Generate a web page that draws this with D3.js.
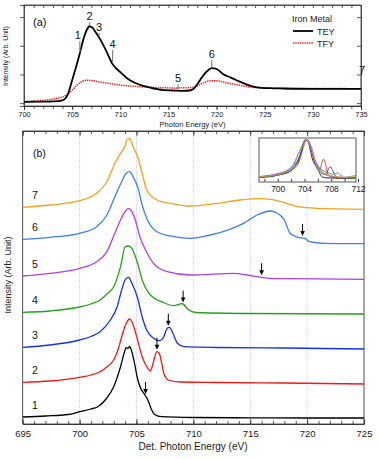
<!DOCTYPE html>
<html><head><meta charset="utf-8">
<script src="https://cdn.jsdelivr.net/npm/d3@7"></script>
<style>
html,body{margin:0;padding:0;background:#fff;}
svg{display:block;font-family:"Liberation Sans",Arial,Helvetica,sans-serif;}
</style></head>
<body><svg id="c" width="381" height="459"></svg>
<script>
// ---------- Panel (a) data: [photon energy (eV), intensity] ----------
const teyData = [[700,0.045],[702,0.05],[703,0.06],[704,0.10],[704.4,0.21],[704.6,0.35],[705,0.80],[705.4,1.25],[705.8,1.74],[706.2,2.26],[706.5,2.54],[706.8,2.68],[707.1,2.63],[707.5,2.44],[707.9,2.23],[708.5,1.85],[709.2,1.36],[710,1.08],[710.7,0.87],[711.5,0.71],[712.5,0.59],[713.5,0.51],[714.5,0.45],[715.5,0.44],[716.5,0.43],[717.2,0.44],[717.6,0.49],[718.0,0.66],[718.5,0.91],[719.0,1.11],[719.5,1.22],[720.0,1.19],[720.7,1.01],[721.5,0.89],[722.4,0.75],[723.3,0.63],[724.2,0.55],[725.5,0.52],[727,0.51],[730,0.50],[735,0.50]];
const tfyData = [[700,0.045],[701,0.07],[702,0.094],[703,0.14],[703.8,0.195],[704.4,0.28],[705,0.45],[705.5,0.63],[706,0.75],[706.6,0.80],[707.2,0.78],[708,0.73],[709,0.68],[710,0.63],[711.3,0.59],[712.5,0.56],[714,0.54],[715.5,0.53],[717,0.54],[717.8,0.57],[718.5,0.68],[719.3,0.78],[720,0.78],[721,0.71],[722.3,0.63],[723.5,0.56],[725,0.53],[728,0.51],[735,0.505]];
const markerLabels = ["1","2","3","4","5","6","7"];
const markerEnergies = [705.8,706.8,707.8,709.2,716.0,719.5,735];
const markerTips = [2.16,2.82,2.44,1.85,0.66,1.5,0.94];
const xTicksA = [700,705,710,715,720,725,730,735];
const yTicksA = [0,1,2,3];
const legendTitle = "Iron Metal";
const legendNames = ["TEY","TFY"];

// ---------- Panel (b) data: [detected photon energy (eV), intensity incl. offset] ----------
const s1 = [[695,7],[697,8],[699,9.5],[700,12.3],[701,15],[701.6,17.3],[702.4,26],[703,37.3],[703.6,57.3],[704.0,74],[704.1,76.5],[704.25,75.5],[704.4,77.5],[704.5,75.5],[704.8,62.3],[705.1,45],[705.4,35],[705.6,31.5],[705.8,28],[706.0,24],[706.3,15],[706.6,9.5],[707.2,7.3],[710,6.5],[715,6.2],[720,6],[725,6]];
const s2 = [[695,41.7],[697.4,43],[700,46.7],[701,49],[701.8,52.3],[702.5,58],[703,64],[703.4,75],[703.7,87.3],[704.1,100.7],[704.4,105],[704.6,102.3],[704.85,94],[705.1,84],[705.5,67.3],[706.0,55.7],[706.2,53],[706.4,58],[706.6,67],[706.8,72.3],[707.0,70.7],[707.2,62],[707.4,50.7],[707.8,44],[708.9,42],[712,41.5],[718,41],[725,40]];
const s3 = [[695,76.7],[697.4,79],[700,84],[701,87.5],[701.8,92.3],[702.7,104],[703.3,117.3],[703.7,134],[704.0,144],[704.3,146.7],[704.6,140.7],[705.1,126],[705.5,107.3],[705.9,94],[706.5,85.7],[707.0,83.3],[707.4,87.3],[707.7,95.7],[707.9,96.7],[708.2,90.7],[708.6,80.7],[709.2,77.3],[712,76.5],[718,76],[725,75]];
const s4 = [[695,111.7],[697.4,113],[700,117],[701,120],[701.8,124],[702.5,131],[703,137.3],[703.6,157.3],[704.0,177],[704.3,178],[704.6,175.7],[705.1,160.7],[705.5,144],[706.1,130.7],[706.6,125.5],[707.2,122.3],[708.3,118.3],[708.7,119.5],[709.0,120.5],[709.5,115],[710.2,111.5],[715,110.5],[725,110]];
const s5 = [[695,148],[697.4,150.7],[700,155.7],[701.5,162.3],[702.4,172.3],[703.1,190.7],[703.6,204],[704.0,212.3],[704.3,215.7],[704.6,212.3],[704.9,204],[705.3,187.3],[705.8,174],[706.5,160.7],[707.7,152.3],[709.7,149],[711.5,149.7],[713.5,150.7],[714.7,149],[716.0,146.7],[716.7,145.7],[718.5,145.3],[725,144.7]];
const s6 = [[695,184.7],[697.4,186.7],[700,190.7],[701.5,197.3],[702.4,209],[703.1,227.3],[703.7,242.3],[704.1,250.7],[704.4,252.3],[704.7,247.3],[705.1,237.3],[705.5,219],[705.9,205.7],[706.8,192.3],[708.3,187.3],[709.7,185.7],[711.5,189],[713.2,194.7],[714.4,200.7],[715.6,209],[716.8,213],[717.3,211.3],[718.0,204],[718.5,190.7],[719.2,186.7],[719.8,185.7],[720.2,182.3],[721.4,180.7],[725,180.3]];
const s7 = [[695,216.7],[697.4,219],[700,223.3],[701.5,230.7],[702.4,242.3],[703.1,260.7],[703.6,270.7],[704.0,278],[704.2,285],[704.4,285.5],[704.7,277.3],[705.1,267.3],[705.5,250.7],[705.9,234],[706.8,224],[708.3,220],[709.7,218],[712.1,220.7],[714.1,224],[715.9,225.3],[716.8,224.7],[718.0,221.3],[719.2,217.3],[720.9,215.7],[725,214.7]];
const seriesB = [s1,s2,s3,s4,s5,s6,s7];
const seriesLabels = ["1","2","3","4","5","6","7"];
const seriesColors = ["#000000","#f01818","#1530ee","#26a01a","#b23ef0","#3d7ff0","#f7a21b"];
const arrowEnergies = [705.8,706.8,707.8,709.1,716.0,719.6];
const xTicksB = [695,700,705,710,715,720,725];
const insetTicks = [700,704,708,712];

// ---------- drawing ----------
const svg = d3.select("#c");
const axisCol = "#333";

// ===== Panel (a) =====
const xA = d3.scaleLinear([700,735],[24,361]);
const yA = d3.scaleLinear([-0.1,3.42],[106,5]);
const gA = svg.append("g");
gA.append("rect").attr("x",24).attr("y",5).attr("width",337).attr("height",101)
  .attr("fill","none").attr("stroke",axisCol).attr("stroke-width",0.8);
const minorA = d3.range(700,736,1);
function styleAxis(g){ g.selectAll(".domain").attr("stroke",axisCol).attr("stroke-width",0.8);
  g.selectAll(".tick line").attr("stroke",axisCol).attr("stroke-width",0.8); }
gA.append("g").attr("transform","translate(0,106)")
  .call(d3.axisBottom(xA).tickValues(minorA).tickSize(3).tickFormat(""))
  .call(styleAxis);
gA.append("g").attr("transform","translate(0,106)")
  .call(d3.axisBottom(xA).tickValues(xTicksA).tickSize(4).tickPadding(2).tickFormat(d3.format("d")))
  .call(styleAxis)
  .call(g=>g.selectAll("text").attr("font-size",7.5).attr("fill","#222"));
gA.append("g").attr("transform","translate(0,5)")
  .call(d3.axisTop(xA).tickValues(minorA).tickSizeInner(-3).tickSizeOuter(0).tickFormat(""))
  .call(styleAxis);
gA.append("g").attr("transform","translate(24,0)")
  .call(d3.axisLeft(yA).tickValues(yTicksA).tickSize(4).tickFormat(""))
  .call(styleAxis);
gA.append("g").attr("transform","translate(361,0)")
  .call(d3.axisRight(yA).tickValues(yTicksA).tickSizeInner(-4).tickSizeOuter(0).tickFormat(""))
  .call(styleAxis);
gA.append("text").attr("x",192.5).attr("y",127).attr("text-anchor","middle")
  .attr("font-size",7.5).attr("fill","#222").text("Photon Energy (eV)");
gA.append("text").attr("transform","translate(8,56) rotate(-90)").attr("text-anchor","middle")
  .attr("font-size",7).attr("fill","#222").text("Intensity (Arb. Unit)");
gA.append("text").attr("x",33).attr("y",26).attr("font-size",11).attr("fill","#111").text("(a)");

const lineA = d3.line().x(d=>xA(d[0])).y(d=>yA(d[1])).curve(d3.curveMonotoneX);
gA.append("path").datum(tfyData).attr("d",lineA).attr("fill","none")
  .attr("stroke","#f02020").attr("stroke-width",1.5).attr("stroke-dasharray","1.4,0.9");
gA.append("path").datum(teyData).attr("d",lineA).attr("fill","none")
  .attr("stroke","#000").attr("stroke-width",1.8);

function interp(arr,e){
  for(let i=0;i<arr.length-1;i++){ if(e>=arr[i][0] && e<=arr[i+1][0]){
    const t=(e-arr[i][0])/(arr[i+1][0]-arr[i][0]); return arr[i][1]+t*(arr[i+1][1]-arr[i][1]); } }
  return arr[arr.length-1][1];
}
markerLabels.forEach((lab,i)=>{
  const e=markerEnergies[i];
  const x=xA(e), yb=yA(interp(teyData,e)), yt=yA(markerTips[i]);
  gA.append("line").attr("x1",x).attr("x2",x).attr("y1",yt).attr("y2",yb-1)
    .attr("stroke","#888").attr("stroke-width",1.2);
  gA.append("text").attr("x",x).attr("y",yt-2).attr("text-anchor",i===6?"end":"middle")
    .attr("dx",i===6?4:(i===0?-2:0))
    .attr("font-size",11).attr("fill","#111").text(lab);
});
// legend
gA.append("text").attr("x",292).attr("y",22).attr("font-size",9).attr("fill","#222").text(legendTitle);
gA.append("line").attr("x1",293).attr("x2",313).attr("y1",31).attr("y2",31).attr("stroke","#000").attr("stroke-width",1.8);
gA.append("line").attr("x1",293).attr("x2",313).attr("y1",43).attr("y2",43).attr("stroke","#f02020").attr("stroke-width",1.5).attr("stroke-dasharray","1.4,0.9");
gA.append("text").attr("x",317).attr("y",34.5).attr("font-size",9).attr("fill","#222").text(legendNames[0]);
gA.append("text").attr("x",317).attr("y",46.5).attr("font-size",9).attr("fill","#222").text(legendNames[1]);

// ===== Panel (b) =====
const xB = d3.scaleLinear([695,725],[22.7,364]);
const yB = d3.scaleLinear([0,293],[424,131]);
const gB = svg.append("g");
// gridlines
gB.selectAll("line.grid").data(xTicksB).join("line").attr("class","grid")
  .attr("x1",d=>xB(d)).attr("x2",d=>xB(d)).attr("y1",131).attr("y2",424)
  .attr("stroke","#b9c0f2").attr("stroke-width",0.8).attr("stroke-dasharray","1.2,1.2");
gB.append("rect").attr("x",22.7).attr("y",131).attr("width",341.3).attr("height",293)
  .attr("fill","none").attr("stroke",axisCol).attr("stroke-width",0.8);
const minorB = d3.range(695,726,1);
gB.append("g").attr("transform","translate(0,424)")
  .call(d3.axisBottom(xB).tickValues(minorB).tickSizeInner(-3).tickSizeOuter(0).tickFormat(""))
  .call(styleAxis);
gB.append("g").attr("transform","translate(0,424)")
  .call(d3.axisBottom(xB).tickValues(xTicksB).tickSizeInner(-5).tickSizeOuter(0).tickPadding(6).tickFormat(d3.format("d")))
  .call(styleAxis)
  .call(g=>g.selectAll("text").attr("font-size",9.5).attr("fill","#222"));
gB.append("g").attr("transform","translate(0,131)")
  .call(d3.axisTop(xB).tickValues(minorB).tickSizeInner(-3).tickSizeOuter(0).tickFormat(""))
  .call(styleAxis);
gB.append("g").attr("transform","translate(0,131)")
  .call(d3.axisTop(xB).tickValues(xTicksB).tickSizeInner(-5).tickSizeOuter(0).tickFormat(""))
  .call(styleAxis);
gB.append("text").attr("x",193).attr("y",450).attr("text-anchor","middle")
  .attr("font-size",10).attr("fill","#222").text("Det. Photon Energy (eV)");
gB.append("text").attr("transform","translate(11,275) rotate(-90)").attr("text-anchor","middle")
  .attr("font-size",9).attr("fill","#222").text("Intensity (Arb. Unit)");
gB.append("text").attr("x",33).attr("y",157).attr("font-size",10.5).attr("fill","#111").text("(b)");

const lineB = d3.line().x(d=>xB(d[0])).y(d=>yB(d[1])).curve(d3.curveMonotoneX);
seriesB.forEach((s,i)=>{
  gB.append("path").datum(s).attr("d",lineB).attr("fill","none")
    .attr("stroke",seriesColors[i]).attr("stroke-width",1.3).attr("stroke-linejoin","round");
  gB.append("text").attr("x",32).attr("y",yB(s[0][1])-8).attr("font-size",10.5).attr("fill","#111").text(seriesLabels[i]);
});
// arrows
arrowEnergies.forEach((e,i)=>{
  const x=xB(e), tip=yB(interp(seriesB[i],e))-2;
  gB.append("line").attr("x1",x).attr("x2",x).attr("y1",tip-12).attr("y2",tip-4)
    .attr("stroke","#000").attr("stroke-width",1);
  gB.append("path").attr("d",`M${x-2.3},${tip-5}L${x+2.3},${tip-5}L${x},${tip}Z`).attr("fill","#000");
});

// ===== Inset =====
const xI = d3.scaleLinear([697.2,711.7],[259,356]);
const yI = d3.scaleLinear([0,1],[178,139.5]);
const gI = svg.append("g");
gI.append("rect").attr("x",259).attr("y",138).attr("width",97).attr("height",44).attr("fill","#fff");
gI.append("clipPath").attr("id","ic").append("rect").attr("x",259).attr("y",138).attr("width",97).attr("height",44);
const gIc = gI.append("g").attr("clip-path","url(#ic)");
seriesB.forEach((s,i)=>{
  const base=s[0][1], pk=d3.max(s.filter(d=>d[0]<706),d=>d[1]);
  const lineI = d3.line().x(d=>xI(d[0])).y(d=>yI((d[1]-base)/(pk-base))).curve(d3.curveMonotoneX);
  gIc.append("path").datum(s).attr("d",lineI).attr("fill","none")
    .attr("stroke",seriesColors[i]).attr("stroke-width",0.9).attr("opacity",0.9);
});
gI.append("g").attr("transform","translate(0,182)")
  .call(d3.axisBottom(xI).tickValues(d3.range(698,712.1,2)).tickSizeInner(-3).tickSizeOuter(0).tickFormat(""))
  .call(g=>{g.select(".domain").remove(); g.selectAll(".tick line").attr("stroke","#333");});
gI.append("g").attr("transform","translate(0,182)")
  .call(d3.axisBottom(xI).tickValues(insetTicks).tickSize(0).tickPadding(4).tickFormat(d3.format("d")))
  .call(g=>{g.select(".domain").remove(); g.selectAll("text").attr("font-size",8.5).attr("fill","#222");});
gI.append("rect").attr("x",259).attr("y",138).attr("width",97).attr("height",44)
  .attr("fill","none").attr("stroke","#888").attr("stroke-width",1.4);
</script></body></html>
